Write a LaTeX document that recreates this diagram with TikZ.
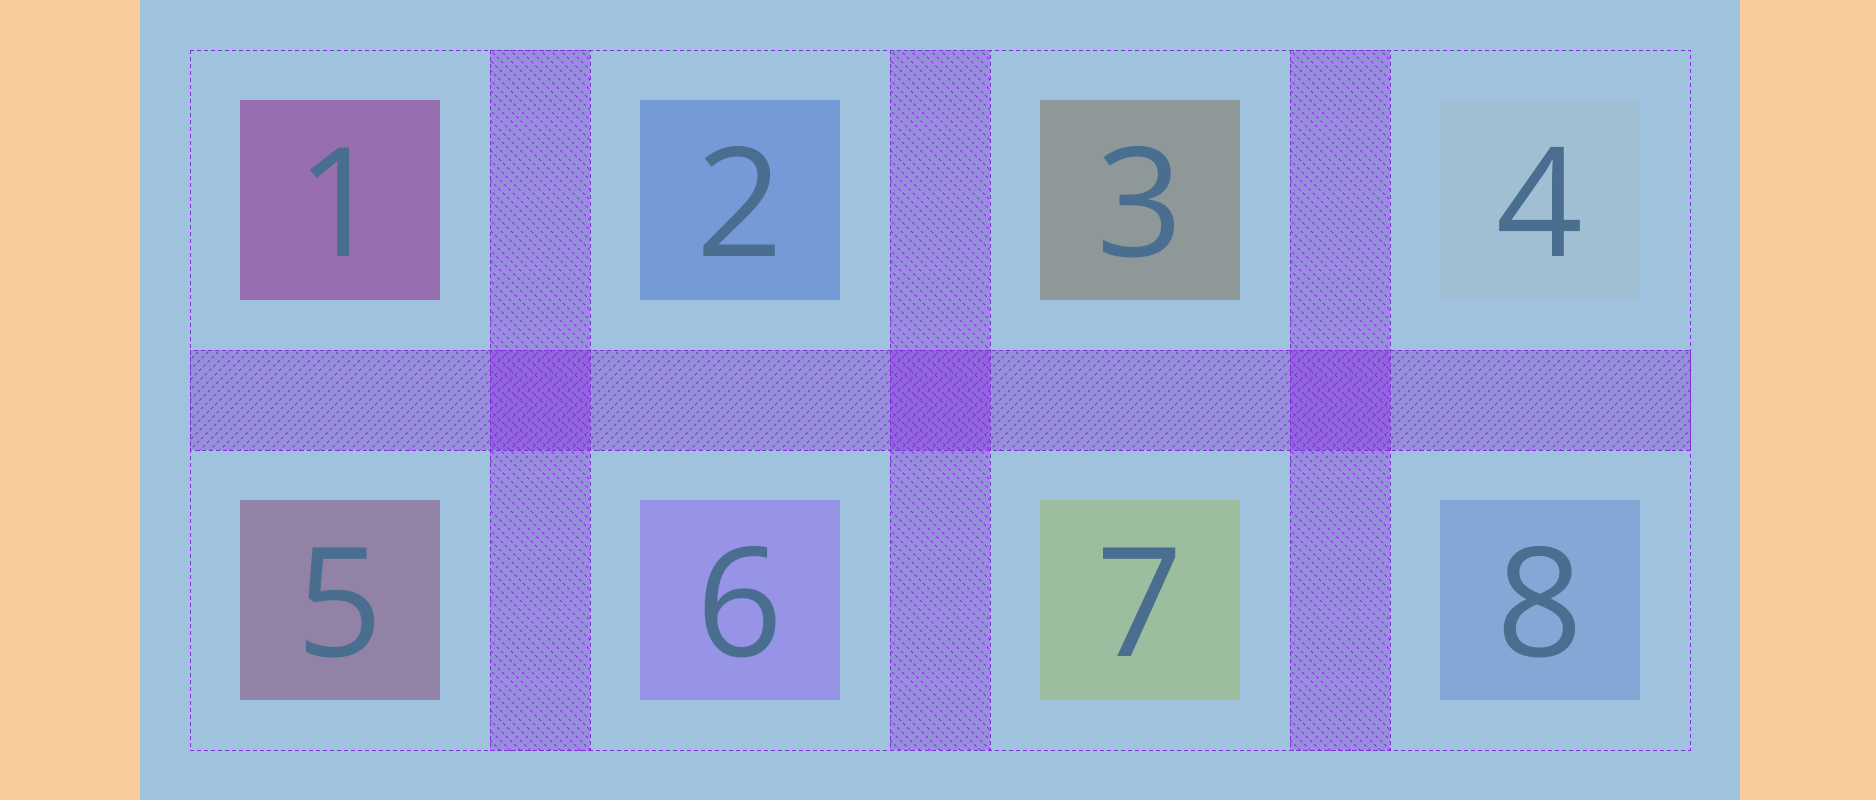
\documentclass[tikz,border=0pt]{standalone}
\usepackage{fontspec}
\setmainfont{Open Sans}
\definecolor{outerbg}{HTML}{F8CB9C}
\definecolor{innerbg}{HTML}{9FC3DF}
\definecolor{gutter}{HTML}{9690DC}
\definecolor{gutterx}{HTML}{9068DD}
\definecolor{hatchc}{HTML}{8A2BE2}
\definecolor{numc}{HTML}{4A6E90}
\definecolor{cA}{HTML}{976FB0}
\definecolor{cB}{HTML}{749BD8}
\definecolor{cC}{HTML}{8E9898}
\definecolor{cD}{HTML}{A0BFD3}
\definecolor{cE}{HTML}{9182A6}
\definecolor{cF}{HTML}{9793E6}
\definecolor{cG}{HTML}{9DBE9E}
\definecolor{cH}{HTML}{85A7D5}
\begin{document}
\begin{tikzpicture}[x=0.5pt,y=-0.5pt,
  item/.style={draw=none,rectangle,inner sep=0pt,minimum width=100pt,minimum height=100pt,anchor=north west},
  num/.style={text=numc,inner sep=0pt,anchor=base,font=\fontsize{76}{80}\selectfont},
  hatch/.style={hatchc,line width=0.5pt,dash pattern=on 1.5pt off 1.5pt},
  edge/.style={hatchc,line width=0.5pt,dash pattern=on 2pt off 1.5pt}]
\useasboundingbox (0,0) rectangle (1876,800);
\fill[outerbg] (0,0) rectangle (1876,800);
\fill[innerbg] (140,0) rectangle (1740,800);
% gutters fills
\fill[gutter] (190,350) rectangle (1690,450);
\foreach \gx in {490,890,1290}{
  \fill[gutter] (\gx,50) rectangle (\gx+100,750);
  \fill[gutterx] (\gx,350) rectangle (\gx+100,450);
}
% hatches in column gutters
\foreach \gx in {490,890,1290}{
  \begin{scope}
    \clip (\gx,50) rectangle (\gx+100,750);
    \foreach \k in {-800,-790,...,200}{
      \draw[hatch] (\gx+\k,40) -- ++(760,760);
    }
  \end{scope}
}
% hatches in row gutter
\begin{scope}
  \clip (190,350) rectangle (1690,450);
  \foreach \k in {60,70,...,1720}{
    \draw[hatch] (\k,460) -- ++(120,-120);
  }
\end{scope}
% dashed borders
\draw[edge] (190,50) rectangle (1690,750);
\draw[edge] (190,350) rectangle (1690,450);
\foreach \gx in {490,890,1290}{
  \draw[edge] (\gx,50) rectangle (\gx+100,750);
}
% items
\node[item,fill=cA] (b1) at (240,100) {};
\node[item,fill=cB] (b2) at (640,100) {};
\node[item,fill=cC] (b3) at (1040,100) {};
\node[item,fill=cD] (b4) at (1440,100) {};
\node[item,fill=cE] (b5) at (240,500) {};
\node[item,fill=cF] (b6) at (640,500) {};
\node[item,fill=cG] (b7) at (1040,500) {};
\node[item,fill=cH] (b8) at (1440,500) {};
\node[num] (t1) at (340,256) {1};
\node[num] (t2) at (740,256) {2};
\node[num] (t3) at (1140,256) {3};
\node[num] (t4) at (1540,256) {4};
\node[num] (t5) at (340,656) {5};
\node[num] (t6) at (740,656) {6};
\node[num] (t7) at (1140,656) {7};
\node[num] (t8) at (1540,656) {8};
\end{tikzpicture}
\end{document}
